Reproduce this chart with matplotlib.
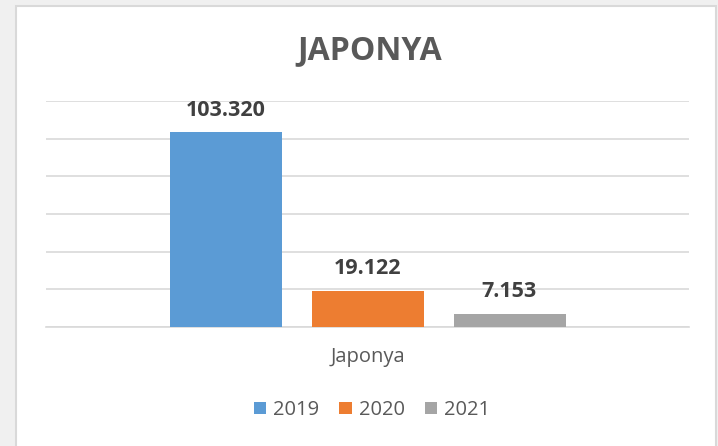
import matplotlib.pyplot as plt
from matplotlib.patches import Rectangle

# dane
kategoria = 'Japonya'
lata = ['2019', '2020', '2021']
wartosci = [103320, 19122, 7153]
etykiety = ['103.320', '19.122', '7.153']
kolory = ['#5B9BD5', '#ED7D31', '#A5A5A5']

plt.rcParams['font.family'] = ['Open Sans', 'DejaVu Sans']

W, H = 718, 446
fig = plt.figure(figsize=(W / 100, H / 100), dpi=100)
fig.patch.set_facecolor('#f0f0f0')
fig.patches.append(Rectangle((16 / W, -0.05), 700 / W, 1.05 - 6 / H, transform=fig.transFigure,
                             facecolor='white', edgecolor='#d9d9d9', linewidth=1.5, zorder=-5))

ax = fig.add_axes([46 / W, 1 - 327 / H, 643 / W, 226 / H])
ax.set_facecolor('none')
pozycje = [-1, 0, 1]
szer = 112 / 142
bars = ax.bar(pozycje, wartosci, width=szer, color=kolory, label=lata, zorder=3)
for x, v, t in zip(pozycje, wartosci, etykiety):
    ax.text(x, v + 6300, t, ha='center', va='bottom', fontsize=15.5, fontweight='bold', color='#404040')

ax.set_xlim(-643 / 284, 643 / 284)
ax.set_ylim(0, 120000)
ax.set_yticks(range(0, 120001, 20000))
ax.yaxis.grid(True, color='#d9d9d9', linewidth=1.2, zorder=0)
ax.tick_params(left=False, labelleft=False, bottom=False, labelbottom=False)
for s in ['top', 'right', 'left']:
    ax.spines[s].set_visible(False)
ax.spines['bottom'].set_color('#d9d9d9')
ax.spines['bottom'].set_linewidth(1.2)

fig.text(368 / W, 1 - 357 / H, kategoria, ha='center', va='center', fontsize=14.5, color='#595959')
fig.text(370 / W, 1 - 51 / H, 'JAPONYA', ha='center', va='center', fontsize=23, fontweight='bold', color='#595959')

fig.legend(bars, lata, loc='center', bbox_to_anchor=(372 / W, 1 - 410 / H), ncol=3, frameon=False,
           fontsize=14.5, handlelength=0.6, handleheight=0.6, handletextpad=0.35, columnspacing=1.0,
           labelcolor='#595959')

plt.savefig('out.png', dpi=100, facecolor=fig.get_facecolor())
